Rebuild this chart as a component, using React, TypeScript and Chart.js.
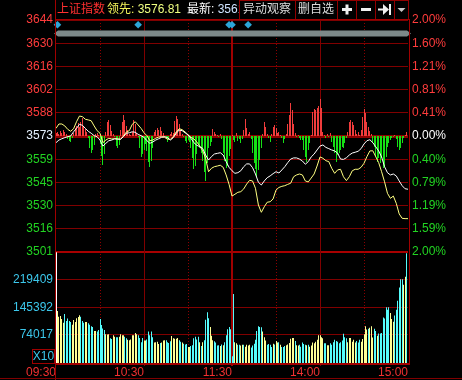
import React, { useEffect, useRef } from 'react';
import { Chart, registerables } from 'chart.js';

Chart.register(...registerables);

// ---------------- data ----------------
const PREV_CLOSE = 3573;
const indexName = '上证指数';
const leadLabel = '领先: ';
const leadValue = '3576.81';
const latestLabel = '最新: ';
const latestValue = '3561.27';
const toolLabels = ['异动观察', '删自选'];

const priceLabels = ['3644', '3630', '3616', '3602', '3588', '3573', '3559', '3545', '3530', '3516', '3501'];
const pctLabels = ['2.00%', '1.60%', '1.21%', '0.81%', '0.41%', '0.00%', '0.40%', '0.79%', '1.19%', '1.59%', '2.00%'];
const pctGridAsc = [-2, -1.6, -1.2, -0.8, -0.4, 0, 0.4, 0.8, 1.2, 1.6, 2];

const timeLabels = ['09:30', '10:30', '11:30', '14:00', '15:00'];
const timeMinutes = [0, 60, 120, 180, 240];
const dottedMinutes = [30, 90, 150, 210];
const solidMinutes = [60, 120, 180];

const volTickValues = [74.017, 145.392, 219.409]; // thousands
const volTickLabels = ['74017', '145392', '219409'];
const VOL_MAX = 292.5;
const volUnitLabel = 'X10';

const eventMinutes = [1, 56, 118, 120, 131];

// index price, every 2 minutes (121 points)
const whiteLine = [
  3568.9, 3570.5, 3571.3, 3572.0, 3572.6, 3573.0, 3575.6, 3577.7, 3580.2, 3579.6,
  3577.7, 3575.9, 3574.7, 3573.2, 3572.6, 3570.5, 3566.8, 3568.5, 3570.1, 3570.5,
  3571.3, 3571.0, 3571.0, 3572.6, 3574.7, 3575.0, 3575.6, 3575.3, 3574.0, 3573.2,
  3572.2, 3570.1, 3568.5, 3569.3, 3570.5, 3571.3, 3572.2, 3572.6, 3572.0, 3570.5,
  3572.0, 3574.7, 3576.7, 3576.3, 3575.0, 3573.6, 3571.6, 3568.9, 3567.3, 3566.4,
  3565.4, 3561.3, 3558.2, 3560.3, 3561.9, 3562.3, 3562.7, 3561.3, 3557.2, 3553.7,
  3551.6, 3550.0, 3550.4, 3551.6, 3554.1, 3555.8, 3555.8, 3553.5, 3549.6, 3544.5,
  3542.8, 3545.3, 3547.3, 3548.4, 3549.8, 3551.0, 3550.2, 3552.1, 3554.1, 3556.6,
  3558.8, 3559.5, 3559.5, 3558.8, 3557.6, 3555.6, 3557.2, 3560.1, 3561.9, 3564.4,
  3566.8, 3567.5, 3566.0, 3565.2, 3564.4, 3563.8, 3562.5, 3558.8, 3558.6, 3559.6,
  3561.3, 3562.5, 3563.0, 3563.6, 3565.2, 3568.1, 3570.1, 3570.7, 3568.9, 3566.4,
  3563.8, 3560.1, 3554.1, 3550.4, 3549.0, 3549.6, 3548.4, 3545.3, 3542.4, 3540.5,
  3540.2,
];

// leading indicator, every 2 minutes (121 points)
const yellowLine = [
  3577.7, 3580.4, 3580.4, 3579.2, 3577.1, 3575.9, 3577.5, 3581.8, 3585.3, 3584.9,
  3583.3, 3582.9, 3582.4, 3579.2, 3576.3, 3574.7, 3568.9, 3570.5, 3571.6, 3571.2,
  3571.3, 3571.3, 3571.0, 3573.0, 3575.5, 3576.3, 3580.2, 3581.8, 3579.8, 3577.7,
  3575.0, 3573.2, 3570.1, 3570.5, 3571.6, 3572.4, 3572.6, 3572.2, 3571.0, 3571.0,
  3572.6, 3575.6, 3577.5, 3576.9, 3575.5, 3573.8, 3572.2, 3571.2, 3569.3, 3566.8,
  3563.9, 3559.3, 3551.0, 3553.1, 3554.1, 3554.5, 3555.0, 3553.7, 3549.0, 3543.2,
  3536.0, 3537.1, 3538.3, 3538.7, 3540.4, 3543.4, 3545.7, 3545.3, 3540.8, 3530.5,
  3526.0, 3529.4, 3532.2, 3532.5, 3534.2, 3539.7, 3541.3, 3542.0, 3542.4, 3543.2,
  3543.9, 3547.9, 3549.0, 3549.6, 3549.0, 3545.3, 3544.7, 3547.1, 3549.6, 3554.5,
  3560.1, 3559.3, 3557.8, 3557.2, 3553.1, 3550.0, 3552.1, 3552.5, 3547.9, 3545.5,
  3547.9, 3551.6, 3552.5, 3552.5, 3553.7, 3556.2, 3560.3, 3563.8, 3563.9, 3560.3,
  3556.6, 3551.0, 3544.8, 3537.7, 3534.6, 3536.0, 3531.5, 3525.0, 3522.3, 3522.1,
  3522.1,
];

// per-minute volume (thousands), 09:30-11:30
const volumeAM = [
  292, 137, 122, 124, 116, 106, 129, 111, 117, 111,
  108, 101, 113, 108, 118, 121, 126, 122, 111, 106,
  108, 108, 105, 101, 97, 95, 84, 84, 83, 87,
  116, 100, 91, 87, 76, 75, 76, 65, 63, 73,
  69, 68, 68, 69, 76, 73, 73, 69, 65, 61,
  60, 62, 73, 73, 79, 76, 73, 66, 55, 66,
  59, 59, 62, 83, 73, 83, 68, 54, 55, 56,
  50, 53, 54, 59, 60, 60, 55, 53, 57, 71,
  65, 64, 64, 66, 60, 56, 54, 51, 49, 50,
  42, 42, 45, 47, 65, 69, 62, 69, 55, 45,
  55, 60, 114, 134, 118, 95, 72, 60, 57, 54,
  46, 47, 45, 49, 47, 55, 73, 89, 95, 89,
  18,
];
// per-minute volume (thousands), 13:01-15:00
const volumePM = [
  182, 55, 52, 48, 48, 46, 48, 48, 43, 48,
  46, 48, 41, 46, 51, 61, 84, 97, 95, 94,
  83, 68, 59, 48, 50, 48, 42, 51, 49, 58,
  54, 55, 48, 42, 42, 45, 47, 49, 53, 64,
  66, 66, 58, 47, 46, 48, 43, 54, 50, 48,
  47, 48, 43, 46, 54, 52, 56, 61, 73, 73,
  68, 65, 52, 52, 47, 47, 52, 48, 55, 61,
  58, 56, 52, 55, 59, 77, 68, 65, 55, 66,
  66, 56, 61, 54, 58, 54, 61, 56, 63, 76,
  97, 88, 90, 93, 97, 67, 90, 84, 72, 78,
  78, 79, 120, 117, 147, 140, 147, 132, 116, 109,
  125, 140, 164, 199, 221, 221, 206, 227, 289, 39,
];
// bar colour codes: w = open, y = yellow, c = cyan
const volDirAM =
  'w yyyyy ccccc yyyyyy ccc yy cccc yy cccccc yyy cc yy cc yyyy cc yyyyyyy cccc yy ccccc yyyy c yyy cccc yyyyy cc y ccc yy cccccc y c y cccc yyy cccc y c y cccccc';
const volDirPM =
  'c yy cc yy c yyyy cccccccc yyy cccc y c yy c y ccc yyyyyy c yy ccccc y c yyyyyyyyyy cc yy cccccccccccc yyyyyy ccc yyyyy c yyy cc y cccccccc yyy cccccc yy cc';

// buy/sell strength bars (units), per minute
const forceAM = [
  3, 4, 2, 5, 3, 6, 4, 2, -3, -5,
  -6, -2, 3, 8, 10, 13, 9, 14, 18, 10,
  7, 4, -2, -12, -17, -14, -9, 2, 3, 1,
  -8, -20, -29, -18, 4, 14, 16, 11, 5, 2,
  -1, -10, -12, -9, 6, 14, 21, 16, 10, 6,
  2, 1, 4, 16, 12, 3, -1, -12, -21, -18,
  -14, -8, -15, -26, -31, -25, -12, 4, 6, 8,
  6, 9, 5, 3, -1, -2, -6, -3, 2, 4,
  3, 15, 20, 17, 12, 6, 2, -1, -5, -7,
  -4, -6, -12, -22, -33, -30, -18, -8, -12, -17,
  -25, -36, -45, -27, -12, -10, -6, 7, 4, 2,
  1, -1, 2, -3, -17, -25, -32, -30, -20, -13,
  1,
];
const forcePM = [
  -4, -6, 3, -5, -3, -7, -3, 6, 17, 8,
  2, 4, -3, -17, -27, -33, -41, -34, -24, -12,
  2, 14, 9, 2, -2, -6, 2, 9, 11, 8,
  3, 4, 1, -2, -7, -3, 2, 12, 21, 33,
  26, 12, 3, -1, 1, -2, -4, -4, -14, -21,
  -26, -14, -7, 1, 24, 27, 26, 28, 30, 37,
  28, 4, 1, -2, 2, -1, 3, -6, -11, -17,
  -26, -19, -17, -14, -11, -12, -7, -2, 4, 14,
  16, 14, 11, 6, 2, 4, 1, 6, 19, 27,
  23, 14, 9, 5, 2, -7, -11, -21, -26, -22,
  -27, -22, -32, -31, -21, -11, -7, -4, -2, -1,
  1, -3, -11, -14, -12, -7, -2, 1, 4, 3,
];
const FORCE_UNIT = 0.0172; // percentage points per strength unit

// ---------------- styles ----------------
const FONT = '"Liberation Sans", Arial, "Noto Sans CJK SC", sans-serif';
const RED_TXT = '#ff3c3c';
const GREEN_TXT = '#22d422';
const CYAN_TXT = '#3cc8ec';
const VOL_COLORS: Record<string, string> = { w: '#ffffff', y: '#ffff96', c: '#55fcfc' };

const tickColor = (i: number) => (i < 5 ? GREEN_TXT : i === 5 ? '#e6f2ff' : RED_TXT);

const chromePlugin = {
  id: 'chrome',
  beforeDraw(chart: any) {
    const { ctx, width, height } = chart;
    ctx.save();
    ctx.fillStyle = '#000';
    ctx.fillRect(0, 0, width, height);
    ctx.restore();
  },
  afterDatasetsUpdate(chart: any) {
    chart.data.datasets.forEach((_: any, i: number) => {
      const meta = chart.getDatasetMeta(i);
      if (meta.type !== 'bar') return;
      meta.data.forEach((el: any) => {
        el.x = Math.floor(el.x) + 0.5;
      });
    });
  },
  beforeDatasetsDraw(chart: any) {
    const { ctx, chartArea: a, scales } = chart;
    const xs = scales.x;
    ctx.save();
    ctx.lineWidth = 1;
    ctx.strokeStyle = '#8c0000';
    ctx.setLineDash([1, 2]);
    dottedMinutes.forEach((m) => {
      const x = Math.round(xs.getPixelForValue(m)) + 0.5;
      ctx.beginPath();
      ctx.moveTo(x, a.top);
      ctx.lineTo(x, a.bottom);
      ctx.stroke();
    });
    ctx.setLineDash([]);
    solidMinutes.forEach((m) => {
      const px = Math.round(xs.getPixelForValue(m));
      const w = m === 120 ? 2 : 1;
      ctx.fillStyle = m === 120 ? '#a00000' : '#800000';
      ctx.fillRect(px - (w - 1), a.top, w, a.bottom - a.top + 3);
    });
    // slider band
    const l = a.left, r = a.right + 1;
    ctx.fillStyle = '#7d8989';
    ctx.beginPath();
    ctx.moveTo(l - 2, 33.5);
    ctx.lineTo(l + 2, 30.5);
    ctx.lineTo(r - 2, 30.5);
    ctx.lineTo(r + 2, 33.5);
    ctx.lineTo(r - 2, 36.5);
    ctx.lineTo(l + 2, 36.5);
    ctx.closePath();
    ctx.fill();
    ctx.fillStyle = '#2ca6d8';
    eventMinutes.forEach((m) => {
      const x = xs.getPixelForValue(m);
      ctx.beginPath();
      ctx.moveTo(x, 21);
      ctx.lineTo(x + 3.8, 24.8);
      ctx.lineTo(x, 28.6);
      ctx.lineTo(x - 3.8, 24.8);
      ctx.closePath();
      ctx.fill();
    });
    ctx.restore();
  },
  afterDraw(chart: any) {
    const { ctx, chartArea: a, width } = chart;
    ctx.save();
    // borders
    ctx.fillStyle = '#a00000';
    ctx.fillRect(55, 0, 1, 380);
    ctx.fillRect(a.right + 1, 19, 1, a.bottom - 19 + 2);
    ctx.fillRect(55, a.bottom, a.right - 55 + 2, 2);
    ctx.fillRect(55, 19, a.right - 55 + 2, 1);
    ctx.fillStyle = '#800000';
    ctx.fillRect(0, 378, width, 1);
    // X10 box
    ctx.strokeStyle = '#a00000';
    ctx.lineWidth = 1;
    ctx.strokeRect(32.5, 349.5, 22, 14);
    ctx.fillStyle = CYAN_TXT;
    ctx.font = `12px ${FONT}`;
    ctx.textAlign = 'center';
    ctx.textBaseline = 'middle';
    ctx.fillText(volUnitLabel, 43.5, 357);

    // header
    ctx.textAlign = 'left';
    const ty = 10;
    ctx.font = `12px ${FONT}`;
    ctx.fillStyle = '#ff3030';
    ctx.fillText(indexName, 57, ty);
    ctx.fillStyle = '#f4f45a';
    ctx.fillText(leadLabel, 107, ty);
    let x = 107 + ctx.measureText(leadLabel).width;
    ctx.fillStyle = '#f0ff80';
    ctx.fillText(leadValue, x, ty);
    ctx.fillStyle = '#ffffff';
    ctx.fillText(latestLabel, 187, ty);
    x = 187 + ctx.measureText(latestLabel).width;
    ctx.save();
    ctx.beginPath();
    ctx.rect(0, 0, 239, 19);
    ctx.clip();
    ctx.fillStyle = '#cfe4ff';
    ctx.fillText(latestValue, x, ty);
    ctx.restore();

    // tool boxes
    const seps = [239, 295, 337, 356, 375, 394, 408];
    ctx.fillStyle = '#900000';
    seps.forEach((s) => ctx.fillRect(s, 0, 1, 19));
    ctx.fillRect(239, 0, 170, 1);
    ctx.textAlign = 'center';
    ctx.fillStyle = '#dcdcdc';
    ctx.fillText(toolLabels[0], 267, ty);
    ctx.fillText(toolLabels[1], 316, ty);
    ctx.fillStyle = '#f0f0f0';
    // plus
    ctx.fillRect(342, 8, 10, 3);
    ctx.fillRect(345.5, 4.5, 3, 10);
    // minus
    ctx.fillRect(361, 8, 10, 3);
    // arrow to bar
    ctx.fillRect(378, 8.5, 6, 2);
    ctx.beginPath();
    ctx.moveTo(383, 4);
    ctx.lineTo(389, 9.5);
    ctx.lineTo(383, 15);
    ctx.closePath();
    ctx.fill();
    ctx.fillRect(389, 4, 2, 11);
    // dropdown
    ctx.fillStyle = '#c8c8c8';
    ctx.beginPath();
    ctx.moveTo(397.5, 8);
    ctx.lineTo(405.5, 8);
    ctx.lineTo(401.5, 12);
    ctx.closePath();
    ctx.fill();
    ctx.restore();
  },
};

export default function App() {
  const ref = useRef<HTMLCanvasElement>(null);

  useEffect(() => {
    document.body.style.margin = '0';
    document.body.style.background = '#000';
    const canvas = ref.current;
    if (!canvas) return;

    const volume = [...volumeAM, ...volumePM];
    const dirs = (volDirAM + volDirPM).replace(/\s/g, '').split('');
    const force = [...forceAM, ...forcePM];
    const font = { family: FONT, size: 12 };

    const chart = new Chart(canvas, {
      type: 'bar',
      data: {
        datasets: [
          {
            type: 'line',
            label: 'index',
            data: whiteLine.map((v, k) => ({ x: k * 2, y: v })),
            yAxisID: 'yPrice',
            xAxisID: 'x',
            borderColor: '#ffffff',
            borderWidth: 1,
            pointRadius: 0,
            tension: 0,
            order: 0,
          },
          {
            type: 'line',
            label: 'lead',
            data: yellowLine.map((v, k) => ({ x: k * 2, y: v })),
            yAxisID: 'yPrice',
            xAxisID: 'x',
            borderColor: '#ffff80',
            borderWidth: 1,
            pointRadius: 0,
            tension: 0,
            order: 1,
          },
          {
            type: 'bar',
            label: 'strength',
            data: force.map((v, i) => ({ x: i, y: v * FORCE_UNIT })),
            yAxisID: 'yPct',
            xAxisID: 'x',
            backgroundColor: (c: any) => (c.raw && c.raw.y >= 0 ? '#f03c3c' : '#16e016'),
            barThickness: 1,
            grouped: false,
            inflateAmount: 0,
            borderWidth: 0,
            order: 2,
          },
          {
            type: 'bar',
            label: 'volume',
            data: volume.map((v, i) => ({ x: i, y: v })),
            yAxisID: 'yVol',
            xAxisID: 'x',
            backgroundColor: (c: any) => VOL_COLORS[dirs[c.dataIndex]] || VOL_COLORS.c,
            barThickness: 1,
            grouped: false,
            inflateAmount: 0,
            borderWidth: 0,
            order: 3,
          },
        ] as any,
      },
      options: {
        responsive: false,
        animation: false,
        events: [],
        devicePixelRatio: 1,
        layout: { padding: { top: 20, left: 0, right: 0, bottom: 0 } },
        plugins: { legend: { display: false }, tooltip: { enabled: false } },
        scales: {
          x: {
            type: 'linear',
            position: 'bottom',
            min: 0,
            max: 240,
            offset: false,
            afterFit: (s: any) => {
              s.height = 17;
            },
            afterBuildTicks: (s: any) => {
              s.ticks = timeMinutes.map((v) => ({ value: v }));
            },
            ticks: {
              callback: (_v: any, i: number) => timeLabels[i],
              color: '#f03030',
              font,
              align: 'end',
              padding: 2,
              maxRotation: 0,
              autoSkip: false,
            },
            grid: { display: false, drawTicks: false, offset: false },
            border: { display: false },
          },
          yPrice: {
            type: 'linear',
            position: 'left',
            stack: 'left',
            stackWeight: 232,
            weight: 2,
            min: PREV_CLOSE * 0.98,
            max: PREV_CLOSE * 1.02,
            beginAtZero: false,
            afterFit: (s: any) => {
              s.width = 56;
            },
            afterBuildTicks: (s: any) => {
              s.ticks = pctGridAsc.map((p) => ({ value: PREV_CLOSE * (1 + p / 100) }));
            },
            ticks: {
              callback: (_v: any, i: number) => priceLabels[priceLabels.length - 1 - i],
              color: (c: any) => tickColor(c.index),
              font,
              padding: 3,
              autoSkip: false,
            },
            grid: {
              drawTicks: false,
              color: (c: any) => (c.index === 5 ? '#8c0000' : c.index === 0 ? '#a80000' : '#800000'),
              lineWidth: (c: any) => (c.index === 5 ? 3 : c.index === 0 ? 2 : 1),
            },
            border: { display: false },
          },
          yVol: {
            type: 'linear',
            position: 'left',
            stack: 'left',
            stackWeight: 111,
            weight: 1,
            min: 0,
            max: VOL_MAX,
            afterFit: (s: any) => {
              s.width = 56;
            },
            afterBuildTicks: (s: any) => {
              s.ticks = volTickValues.map((v) => ({ value: v }));
            },
            ticks: {
              callback: (_v: any, i: number) => volTickLabels[i],
              color: CYAN_TXT,
              font,
              padding: 3,
              autoSkip: false,
            },
            grid: { drawTicks: false, color: '#800000', lineWidth: 1 },
            border: { display: false },
          },
          yPct: {
            type: 'linear',
            position: 'right',
            stack: 'right',
            stackWeight: 232,
            weight: 1,
            min: -2,
            max: 2,
            afterFit: (s: any) => {
              s.width = 54;
            },
            afterBuildTicks: (s: any) => {
              s.ticks = pctGridAsc.map((v) => ({ value: v }));
            },
            ticks: {
              callback: (_v: any, i: number) => pctLabels[pctLabels.length - 1 - i],
              color: (c: any) => (c.index === 5 ? '#ffffff' : tickColor(c.index)),
              font,
              padding: 4,
              autoSkip: false,
            },
            grid: { display: false, drawTicks: false },
            border: { display: false },
          },
          yPad: {
            type: 'linear',
            position: 'right',
            stack: 'right',
            stackWeight: 111,
            weight: 2,
            min: 0,
            max: 1,
            display: false,
          },
        },
      } as any,
      plugins: [chromePlugin],
    });

    return () => chart.destroy();
  }, []);

  return (
    <div style={{ position: 'fixed', left: 0, top: 0, width: 462, height: 380, background: '#000' }}>
      <canvas ref={ref} width={462} height={380} style={{ display: 'block', width: 462, height: 380 }} />
    </div>
  );
}
